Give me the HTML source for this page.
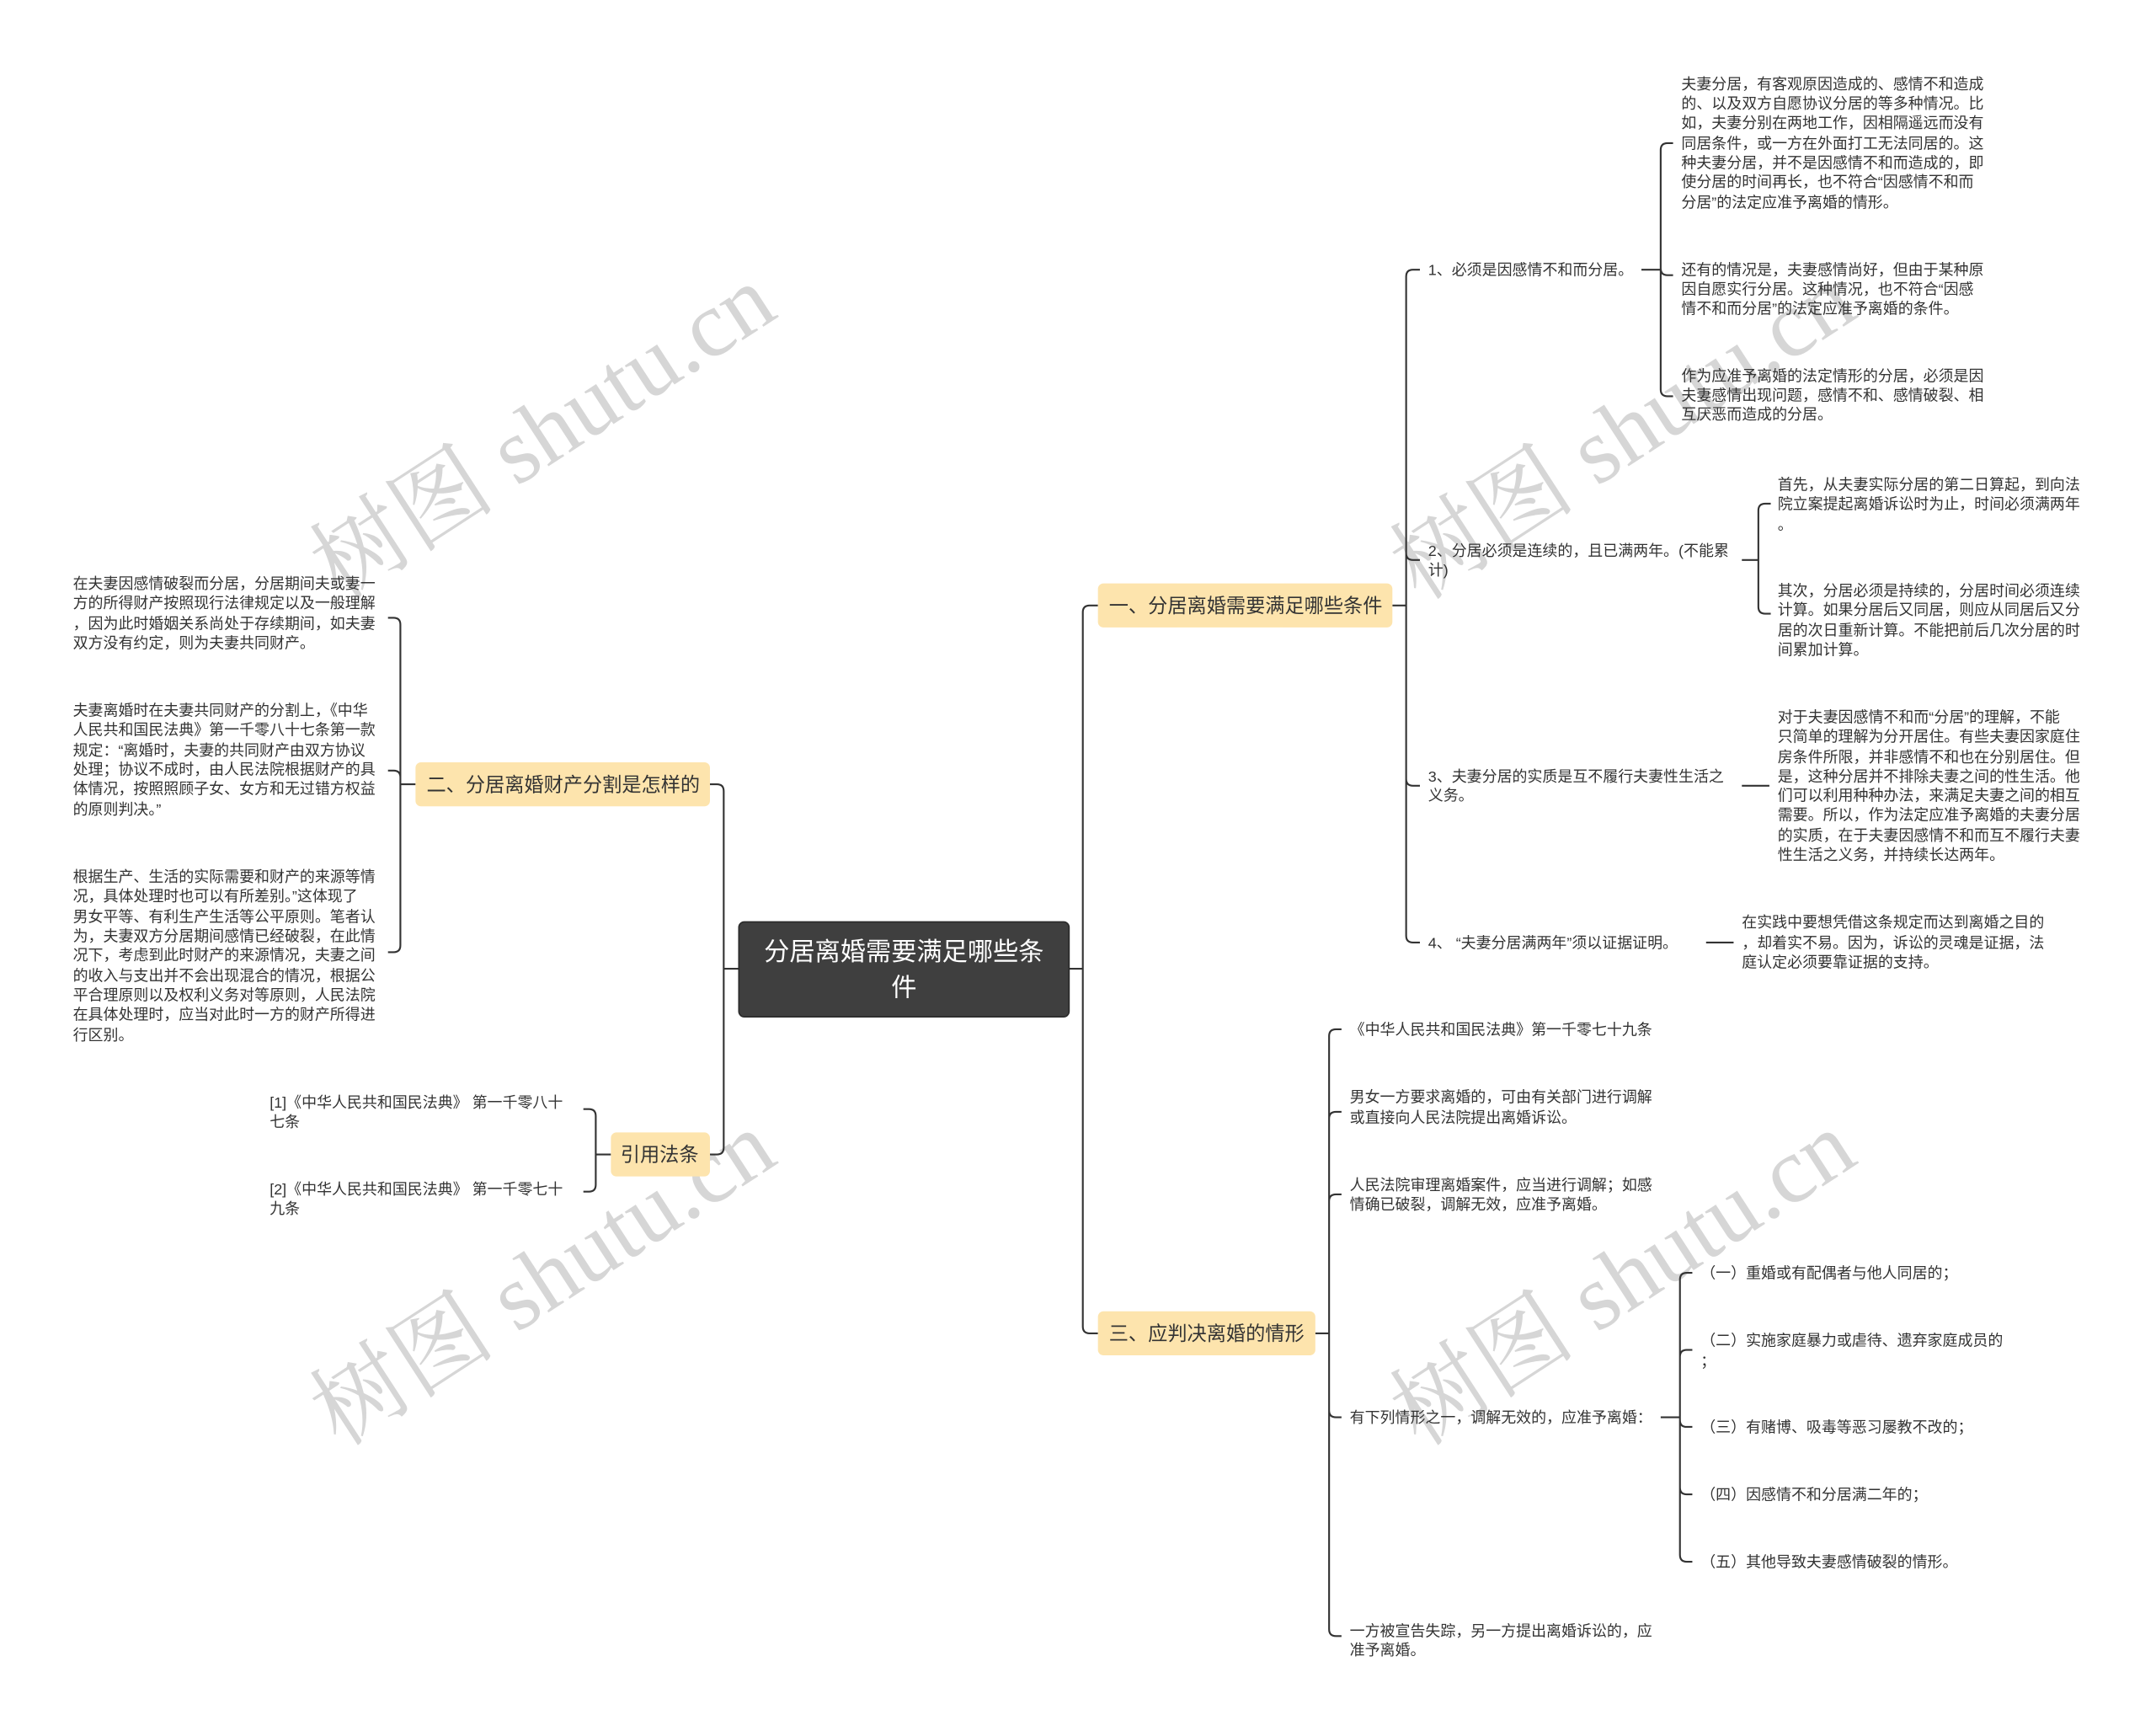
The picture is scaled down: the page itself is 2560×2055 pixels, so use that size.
<!DOCTYPE html>
<html><head><meta charset="utf-8"><style>
html,body{margin:0;padding:0;background:#fff;}
svg{display:block;}
.t{font-family:"Liberation Sans","Noto Sans CJK SC",sans-serif;font-size:11px;fill:#333;}
.b{font-family:"Liberation Sans","Noto Sans CJK SC",sans-serif;font-size:14.2px;fill:#333;}
.c{font-family:"Liberation Sans","Noto Sans CJK SC",sans-serif;font-size:18.5px;fill:#fff;}
.w{font-family:"Liberation Serif","Noto Serif CJK SC",serif;font-size:68px;fill:#cfcfcf;opacity:0.85;}
path{fill:none;stroke:#333;stroke-width:1.3;}
</style></head><body>
<svg width="2560" height="2055" viewBox="0 0 1567 1258" preserveAspectRatio="none" xmlns="http://www.w3.org/2000/svg">
<rect width="1567" height="1258" fill="#fff"/>
<text class="w" x="395" y="337" text-anchor="middle" transform="rotate(-33 395 315)">树图 shutu.cn</text>
<text class="w" x="1180" y="337" text-anchor="middle" transform="rotate(-33 1180 315)">树图 shutu.cn</text>
<text class="w" x="395" y="952" text-anchor="middle" transform="rotate(-33 395 930)">树图 shutu.cn</text>
<text class="w" x="1180" y="952" text-anchor="middle" transform="rotate(-33 1180 930)">树图 shutu.cn</text>

<path d="M777 704 L787 704 M787 704 L787 445 Q787 440 792 440 L798 440 M787 704 L787 964 Q787 969 792 969 L798 969"/>
<path d="M537 704 L526 704 M526 704 L526 575 Q526 570 521 570 L516 570 M526 704 L526 834 Q526 839 521 839 L516 839"/>
<path d="M1012 440 L1022 440 M1022 440 L1022 201 Q1022 196 1027 196 L1032 196 M1022 440 L1022 402 Q1022 407 1027 407 L1032 407 M1022 440 L1022 566 Q1022 571 1027 571 L1032 571 M1022 440 L1022 680 Q1022 685 1027 685 L1032 685"/>
<path d="M1193 196 L1207 196 M1207 196 L1207 109 Q1207 104 1212 104 L1216 104 M1207 196 L1207 195 Q1207 200 1212 200 L1216 200 M1207 196 L1207 283 Q1207 288 1212 288 L1216 288"/>
<path d="M1266 407 L1278 407 M1278 407 L1278 371 Q1278 366 1283 366 L1287 366 M1278 407 L1278 441 Q1278 446 1283 446 L1287 446"/>
<path d="M1266 571 L1286 571 M1240 685 L1260 685"/>
<path d="M956 969 L966 969 M966 969 L966 753 Q966 748 971 748 L975 748 M966 969 L966 813 Q966 808 971 808 L975 808 M966 969 L966 873 Q966 868 971 868 L975 868 M966 969 L966 1025 Q966 1030 971 1030 L975 1030 M966 969 L966 1184 Q966 1189 971 1189 L975 1189"/>
<path d="M1207 1030 L1221 1030 M1221 1030 L1221 930 Q1221 925 1226 925 L1230 925 M1221 1030 L1221 986 Q1221 981 1226 981 L1230 981 M1221 1030 L1221 1032 Q1221 1037 1226 1037 L1230 1037 M1221 1030 L1221 1081 Q1221 1086 1226 1086 L1230 1086 M1221 1030 L1221 1130 Q1221 1135 1226 1135 L1230 1135"/>
<path d="M302 570 L291 570 M291 570 L291 454 Q291 449 286 449 L282 449 M291 570 L291 565 Q291 560 286 560 L282 560 M291 570 L291 687 Q291 692 286 692 L282 692"/>
<path d="M444 839 L433 839 M433 839 L433 811 Q433 806 428 806 L424 806 M433 839 L433 861 Q433 866 428 866 L424 866"/>

<rect x="537" y="670" width="240" height="69" rx="4" fill="#3f3f3f" stroke="#2a2a2a" stroke-width="1"/>
<text class="c" x="657" y="698" text-anchor="middle">分居离婚需要满足哪些条</text>
<text class="c" x="657" y="724" text-anchor="middle">件</text>

<rect x="798" y="424" width="214" height="32" rx="4" fill="#fde4ad"/>
<text class="b" x="806" y="445">一、分居离婚需要满足哪些条件</text>
<rect x="798" y="953" width="158" height="32" rx="4" fill="#fde4ad"/>
<text class="b" x="806" y="974">三、应判决离婚的情形</text>
<rect x="302" y="554" width="214" height="32" rx="4" fill="#fde4ad"/>
<text class="b" x="310" y="575">二、分居离婚财产分割是怎样的</text>
<rect x="444" y="823" width="72" height="32" rx="4" fill="#fde4ad"/>
<text class="b" x="451" y="844">引用法条</text>

<g class="t">
<text x="1038" y="200">1、必须是因感情不和而分居。</text>
<text x="1038" y="404">2、分居必须是连续的，且已满两年。(不能累</text>
<text x="1038" y="418">计)</text>
<text x="1038" y="568">3、夫妻分居的实质是互不履行夫妻性生活之</text>
<text x="1038" y="582">义务。</text>
<text x="1038" y="689">4、 “夫妻分居满两年”须以证据证明。</text>

<text x="1222" y="65">夫妻分居，有客观原因造成的、感情不和造成</text>
<text x="1222" y="79">的、以及双方自愿协议分居的等多种情况。比</text>
<text x="1222" y="93">如，夫妻分别在两地工作，因相隔遥远而没有</text>
<text x="1222" y="108">同居条件，或一方在外面打工无法同居的。这</text>
<text x="1222" y="122">种夫妻分居，并不是因感情不和而造成的，即</text>
<text x="1222" y="136">使分居的时间再长，也不符合“因感情不和而</text>
<text x="1222" y="151">分居”的法定应准予离婚的情形。</text>

<text x="1222" y="200">还有的情况是，夫妻感情尚好，但由于某种原</text>
<text x="1222" y="214">因自愿实行分居。这种情况，也不符合“因感</text>
<text x="1222" y="228">情不和而分居”的法定应准予离婚的条件。</text>

<text x="1222" y="277">作为应准予离婚的法定情形的分居，必须是因</text>
<text x="1222" y="291">夫妻感情出现问题，感情不和、感情破裂、相</text>
<text x="1222" y="305">互厌恶而造成的分居。</text>

<text x="1292" y="356">首先，从夫妻实际分居的第二日算起，到向法</text>
<text x="1292" y="370">院立案提起离婚诉讼时为止，时间必须满两年</text>
<text x="1292" y="385">。</text>
<text x="1292" y="433">其次，分居必须是持续的，分居时间必须连续</text>
<text x="1292" y="447">计算。如果分居后又同居，则应从同居后又分</text>
<text x="1292" y="462">居的次日重新计算。不能把前后几次分居的时</text>
<text x="1292" y="476">间累加计算。</text>

<text x="1292" y="525">对于夫妻因感情不和而“分居”的理解，不能</text>
<text x="1292" y="539">只简单的理解为分开居住。有些夫妻因家庭住</text>
<text x="1292" y="554">房条件所限，并非感情不和也在分别居住。但</text>
<text x="1292" y="568">是，这种分居并不排除夫妻之间的性生活。他</text>
<text x="1292" y="582">们可以利用种种办法，来满足夫妻之间的相互</text>
<text x="1292" y="596">需要。所以，作为法定应准予离婚的夫妻分居</text>
<text x="1292" y="611">的实质，在于夫妻因感情不和而互不履行夫妻</text>
<text x="1292" y="625">性生活之义务，并持续长达两年。</text>

<text x="1266" y="674">在实践中要想凭借这条规定而达到离婚之目的</text>
<text x="1266" y="689">，却着实不易。因为，诉讼的灵魂是证据，法</text>
<text x="1266" y="703">庭认定必须要靠证据的支持。</text>

<text x="981" y="752">《中华人民共和国民法典》第一千零七十九条</text>
<text x="981" y="801">男女一方要求离婚的，可由有关部门进行调解</text>
<text x="981" y="816">或直接向人民法院提出离婚诉讼。</text>
<text x="981" y="865">人民法院审理离婚案件，应当进行调解；如感</text>
<text x="981" y="879">情确已破裂，调解无效，应准予离婚。</text>
<text x="981" y="1034">有下列情形之一，调解无效的，应准予离婚：</text>
<text x="981" y="1189">一方被宣告失踪，另一方提出离婚诉讼的，应</text>
<text x="981" y="1203">准予离婚。</text>

<text x="1236" y="929">（一）重婚或有配偶者与他人同居的；</text>
<text x="1236" y="978">（二）实施家庭暴力或虐待、遗弃家庭成员的</text>
<text x="1236" y="993">；</text>
<text x="1236" y="1041">（三）有赌博、吸毒等恶习屡教不改的；</text>
<text x="1236" y="1090">（四）因感情不和分居满二年的；</text>
<text x="1236" y="1139">（五）其他导致夫妻感情破裂的情形。</text>

<text x="53" y="428">在夫妻因感情破裂而分居，分居期间夫或妻一</text>
<text x="53" y="442">方的所得财产按照现行法律规定以及一般理解</text>
<text x="53" y="457">，因为此时婚姻关系尚处于存续期间，如夫妻</text>
<text x="53" y="471">双方没有约定，则为夫妻共同财产。</text>

<text x="53" y="520">夫妻离婚时在夫妻共同财产的分割上，《中华</text>
<text x="53" y="534">人民共和国民法典》第一千零八十七条第一款</text>
<text x="53" y="549">规定：“离婚时，夫妻的共同财产由双方协议</text>
<text x="53" y="563">处理；协议不成时，由人民法院根据财产的具</text>
<text x="53" y="577">体情况，按照照顾子女、女方和无过错方权益</text>
<text x="53" y="592">的原则判决。”</text>

<text x="53" y="641">根据生产、生活的实际需要和财产的来源等情</text>
<text x="53" y="655">况，具体处理时也可以有所差别。”这体现了</text>
<text x="53" y="670">男女平等、有利生产生活等公平原则。笔者认</text>
<text x="53" y="684">为，夫妻双方分居期间感情已经破裂，在此情</text>
<text x="53" y="698">况下，考虑到此时财产的来源情况，夫妻之间</text>
<text x="53" y="713">的收入与支出并不会出现混合的情况，根据公</text>
<text x="53" y="727">平合理原则以及权利义务对等原则，人民法院</text>
<text x="53" y="741">在具体处理时，应当对此时一方的财产所得进</text>
<text x="53" y="756">行区别。</text>

<text x="196" y="805">[1]《中华人民共和国民法典》 第一千零八十</text>
<text x="196" y="819">七条</text>
<text x="196" y="868">[2]《中华人民共和国民法典》 第一千零七十</text>
<text x="196" y="882">九条</text>
</g>
</svg>
</body></html>
